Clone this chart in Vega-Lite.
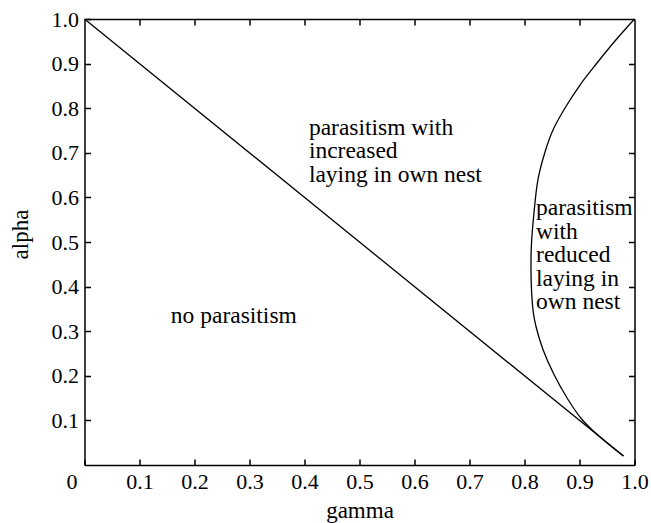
{
  "$schema": "https://vega.github.io/schema/vega-lite/v6.json",
  "width": 550,
  "height": 446,
  "autosize": {"type": "none"},
  "padding": {"left": 84.5, "top": 19, "right": 16.5, "bottom": 58},
  "background": "white",
  "config": {
    "view": {"stroke": null},
    "font": "Liberation Serif",
    "text": {"font": "Liberation Serif"},
    "mark": {"font": "Liberation Serif"},
    "style": {
      "guide-label": {"font": "Liberation Serif"},
      "guide-title": {"font": "Liberation Serif"},
      "notes": {"font": "Liberation Serif", "fontSize": 23.5, "fontWeight": "normal"}
    },
    "axis": {
      "domainColor": "black",
      "domainWidth": 1.5,
      "tickColor": "black",
      "tickWidth": 1.5,
      "labelColor": "black",
      "titleColor": "black",
      "titleFont": "Liberation Serif",
      "labelFont": "Liberation Serif",
      "labelFontSize": 22,
      "labelFontWeight": "normal",
      "titleFontSize": 23,
      "titleFontWeight": "normal",
      "grid": false,
      "labelOverlap": false,
      "labelFlush": false
    }
  },
  "datasets": {
    "diag": [
      {"gamma": 0, "alpha": 1},
      {"gamma": 0.98, "alpha": 0.02}
    ],
    "curve": [
      {"i": 1, "gamma": 1.0, "alpha": 1.0},
      {"i": 2, "gamma": 0.9645, "alpha": 0.9507},
      {"i": 3, "gamma": 0.9318, "alpha": 0.9013},
      {"i": 4, "gamma": 0.9009, "alpha": 0.852},
      {"i": 5, "gamma": 0.8736, "alpha": 0.8004},
      {"i": 6, "gamma": 0.8518, "alpha": 0.7511},
      {"i": 7, "gamma": 0.8373, "alpha": 0.7018},
      {"i": 8, "gamma": 0.8245, "alpha": 0.6401},
      {"i": 9, "gamma": 0.8173, "alpha": 0.5661},
      {"i": 10, "gamma": 0.8124, "alpha": 0.4899},
      {"i": 11, "gamma": 0.8118, "alpha": 0.4383},
      {"i": 12, "gamma": 0.8127, "alpha": 0.3935},
      {"i": 13, "gamma": 0.816, "alpha": 0.3419},
      {"i": 14, "gamma": 0.8209, "alpha": 0.3105},
      {"i": 15, "gamma": 0.8336, "alpha": 0.259},
      {"i": 16, "gamma": 0.8536, "alpha": 0.2029},
      {"i": 17, "gamma": 0.8791, "alpha": 0.1469},
      {"i": 18, "gamma": 0.9045, "alpha": 0.102},
      {"i": 19, "gamma": 0.9282, "alpha": 0.0729},
      {"i": 20, "gamma": 0.9536, "alpha": 0.046},
      {"i": 21, "gamma": 0.98, "alpha": 0.02}
    ],
    "notes": [
      {"gamma": 0.157, "alpha": 0.319, "label": "no parasitism"},
      {"gamma": 0.408, "alpha": 0.741, "label": "parasitism with\nincreased\nlaying in own nest"},
      {"gamma": 0.821, "alpha": 0.56, "label": "parasitism\nwith\nreduced\nlaying in\nown nest"}
    ]
  },
  "layer": [
    {
      "data": {"name": "diag"},
      "mark": {"type": "line", "color": "black", "strokeWidth": 1.3},
      "encoding": {
        "x": {
          "field": "gamma", "type": "quantitative",
          "scale": {"domain": [0, 1], "nice": false, "zero": false},
          "axis": {
            "orient": "bottom",
            "values": [0, 0.1, 0.2, 0.3, 0.4, 0.5, 0.6, 0.7, 0.8, 0.9, 1.0],
            "labelExpr": "datum.value == 0 ? '0' : format(datum.value, '.1f')",
            "labelOffset": {"condition": {"test": "datum.value == 0", "value": -13}, "value": 0},
            "tickSize": -6,
            "labelPadding": 12,
            "title": "gamma",
            "titleBaseline": "alphabetic",
            "titleAlign": "center",
            "titleX": 275,
            "titleY": 52
          }
        },
        "y": {
          "field": "alpha", "type": "quantitative",
          "scale": {"domain": [0, 1], "nice": false, "zero": false},
          "axis": {
            "orient": "left",
            "values": [0.1, 0.2, 0.3, 0.4, 0.5, 0.6, 0.7, 0.8, 0.9, 1.0],
            "format": ".1f",
            "tickSize": -6,
            "labelPadding": 12,
            "title": "alpha",
            "titleAngle": -90,
            "titleBaseline": "alphabetic",
            "titleAlign": "center",
            "titleX": -57,
            "titleY": 215
          }
        }
      }
    },
    {
      "data": {"name": "curve"},
      "mark": {"type": "line", "color": "black", "strokeWidth": 1.3, "interpolate": "catmull-rom"},
      "encoding": {
        "x": {
          "field": "gamma", "type": "quantitative",
          "scale": {"domain": [0, 1], "nice": false, "zero": false},
          "axis": {
            "orient": "top",
            "values": [0.1, 0.2, 0.3, 0.4, 0.5, 0.6, 0.7, 0.8, 0.9],
            "labels": false,
            "tickSize": -6,
            "title": null
          }
        },
        "y": {
          "field": "alpha", "type": "quantitative",
          "scale": {"domain": [0, 1], "nice": false, "zero": false},
          "axis": {
            "orient": "right",
            "values": [0.1, 0.2, 0.3, 0.4, 0.5, 0.6, 0.7, 0.8, 0.9],
            "labels": false,
            "tickSize": -6,
            "title": null
          }
        },
        "order": {"field": "i", "type": "quantitative"}
      }
    },
    {
      "data": {"name": "notes"},
      "mark": {"type": "text", "style": "notes", "align": "left", "baseline": "alphabetic", "lineHeight": 23.5, "lineBreak": "\n", "color": "black"},
      "encoding": {
        "x": {"field": "gamma", "type": "quantitative", "axis": null},
        "y": {"field": "alpha", "type": "quantitative", "axis": null},
        "text": {"field": "label"}
      }
    }
  ],
  "resolve": {"axis": {"x": "independent", "y": "independent"}}
}
